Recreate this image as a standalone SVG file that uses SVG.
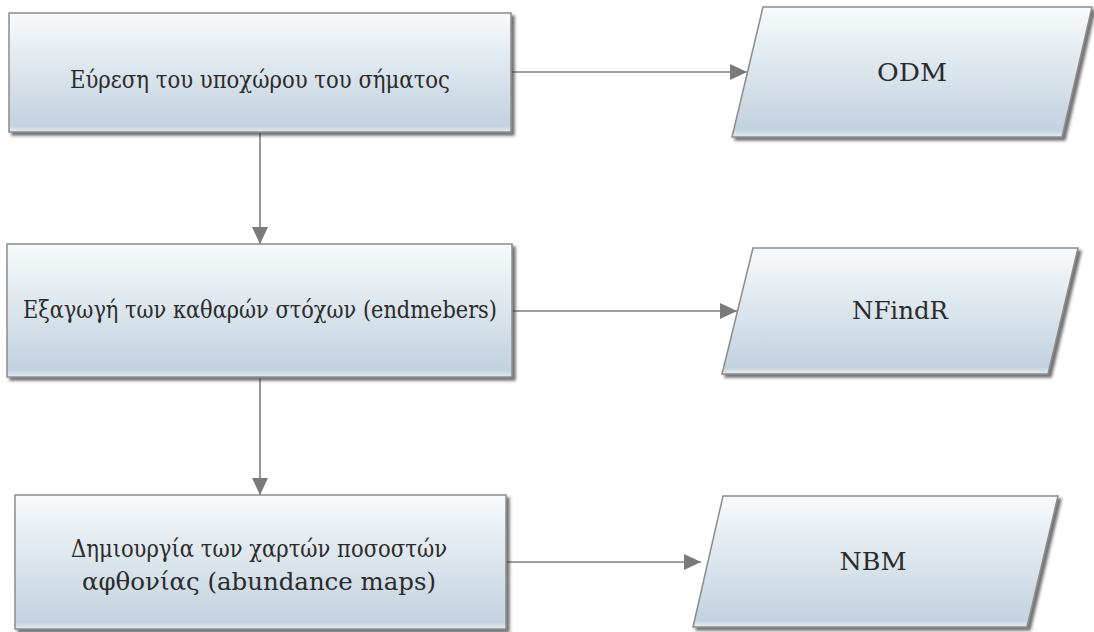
<svg xmlns="http://www.w3.org/2000/svg" width="1094" height="632" viewBox="0 0 1094 632">
  <style>
    .box { fill: url(#fillGrad); stroke: #8c8c8c; stroke-width: 1.5; filter: url(#shadow); }
    .label { font-family: "DejaVu Serif", "Liberation Serif", serif; font-size: 25px; fill: #2b2b2b; text-anchor: middle; }
    .conn { stroke: #808080; stroke-width: 1.6; fill: none; marker-end: url(#arrow); }
  </style>
  <defs>
    <linearGradient id="fillGrad" x1="0" y1="0" x2="0" y2="1">
      <stop offset="0" stop-color="#f9fbfc"/>
      <stop offset="0.15" stop-color="#eff4f7"/>
      <stop offset="0.88" stop-color="#c6d5e1"/>
      <stop offset="0.95" stop-color="#c3d2df"/>
      <stop offset="1" stop-color="#e6edf2"/>
    </linearGradient>
    <filter id="shadow" x="-5%" y="-10%" width="115%" height="130%">
      <feDropShadow dx="3" dy="3" stdDeviation="1.6" flood-color="#303030" flood-opacity="0.7"/>
    </filter>
    <marker id="arrow" markerUnits="userSpaceOnUse" markerWidth="18" markerHeight="16" refX="17" refY="8" orient="auto">
      <path d="M0,0 L17,8 L0,16 Z" fill="#7a7a7a"/>
    </marker>
  </defs>

  <!-- connectors -->
  <g id="connectors">
    <line class="conn" x1="512" y1="72" x2="747" y2="72"/>
    <line class="conn" x1="260" y1="133" x2="260" y2="244"/>
    <line class="conn" x1="513" y1="311" x2="737" y2="311"/>
    <line class="conn" x1="260" y1="378" x2="260" y2="495"/>
    <line class="conn" x1="507" y1="562" x2="701" y2="562"/>
  </g>

  <!-- process steps -->
  <g id="step-subspace">
    <rect class="box" x="9" y="13" width="502" height="119"/>
    <text class="label" x="260" y="88" textLength="380" lengthAdjust="spacingAndGlyphs">Εύρεση του υποχώρου του σήματος</text>
  </g>
  <g id="step-endmembers">
    <rect class="box" x="7" y="244" width="505" height="133"/>
    <text class="label" x="260" y="318" textLength="474" lengthAdjust="spacingAndGlyphs">Εξαγωγή των καθαρών στόχων (endmebers)</text>
  </g>
  <g id="step-abundance">
    <rect class="box" x="15" y="495" width="491" height="134"/>
    <text class="label" x="259" y="557" textLength="376" lengthAdjust="spacingAndGlyphs">Δημιουργία των χαρτών ποσοστών</text>
    <text class="label" x="259" y="590" textLength="354" lengthAdjust="spacingAndGlyphs">αφθονίας (abundance maps)</text>
  </g>

  <!-- algorithms -->
  <g id="algo-odm">
    <polygon class="box" points="763,7 1092,7 1062,137 732,137"/>
    <text class="label" x="912" y="81" textLength="70" lengthAdjust="spacingAndGlyphs">ODM</text>
  </g>
  <g id="algo-nfindr">
    <polygon class="box" points="753,248 1078,248 1048,374 722,374"/>
    <text class="label" x="900" y="319" textLength="96" lengthAdjust="spacingAndGlyphs">NFindR</text>
  </g>
  <g id="algo-nbm">
    <polygon class="box" points="723,496 1058,496 1027,627 693,627"/>
    <text class="label" x="873" y="570" textLength="67" lengthAdjust="spacingAndGlyphs">NBM</text>
  </g>
</svg>
